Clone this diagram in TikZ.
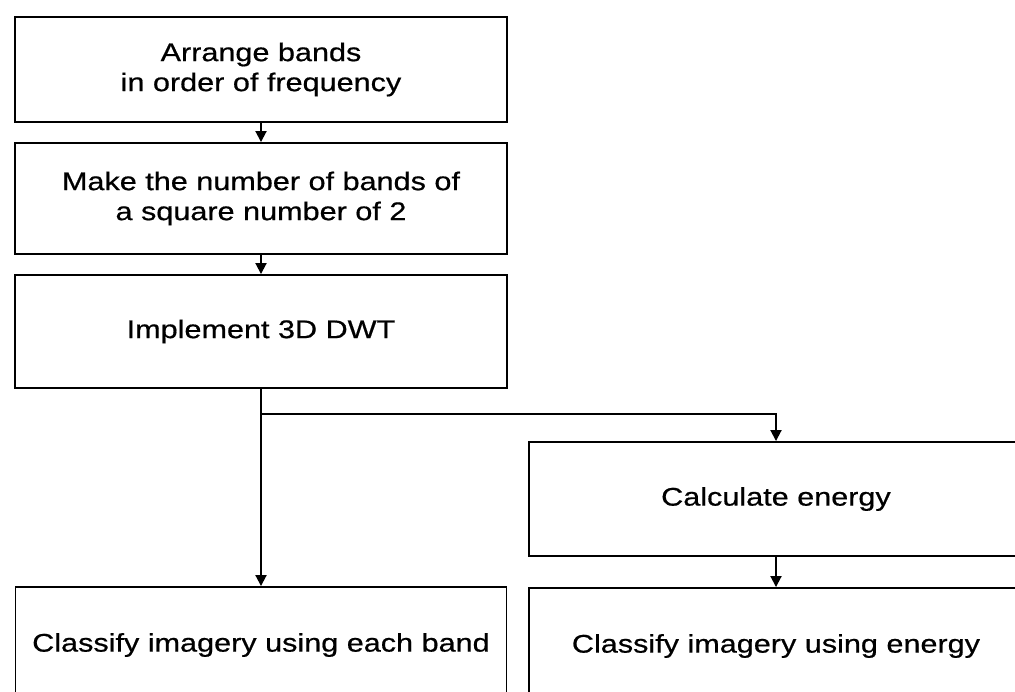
\documentclass[tikz,border=0pt]{standalone}
\usepackage{fontspec}
\setmainfont{Liberation Sans}[FakeStretch=1.2,FakeBold=0.6]
\usetikzlibrary{arrows.meta}
\begin{document}
\begin{tikzpicture}[x=1pt,y=-1pt,
  box/.style={draw,line width=1.9pt,rectangle,inner sep=0pt,align=center,
    font=\fontsize{25.5}{30}\selectfont},
  conn/.style={line width=1.9pt,-{Triangle[length=11pt,width=11pt]}}]
\useasboundingbox (0,0) rectangle (1015,692);
\clip (0,0) rectangle (1015,692);
\node[box,minimum width=492pt,minimum height=105pt] (b1) at (261,69.5) {Arrange bands\\in order of frequency};
\node[box,minimum width=492pt,minimum height=111pt] (b2) at (261,198.5) {Make the number of bands of\\a square number of 2};
\node[box,minimum width=492pt,minimum height=113pt] (b3) at (261,331.5) {Implement 3D DWT};
\node[box,minimum width=494pt,minimum height=114pt] (b4) at (776,499) {Calculate energy};
\node[box,minimum width=491pt,minimum height=116pt] (b5) at (261,645) {Classify imagery using each band};
\node[box,minimum width=494pt,minimum height=116pt] (b6) at (776,646) {Classify imagery using energy};
\coordinate (j) at (261,414);
\draw[conn] (b1.south) -- (b2.north);
\draw[conn] (b2.south) -- (b3.north);
\draw[conn] (b3.south) -- (b5.north);
\draw[conn] (j) -| (b4.north);
\draw[conn] (b4.south) -- (b6.north);
\end{tikzpicture}
\end{document}
